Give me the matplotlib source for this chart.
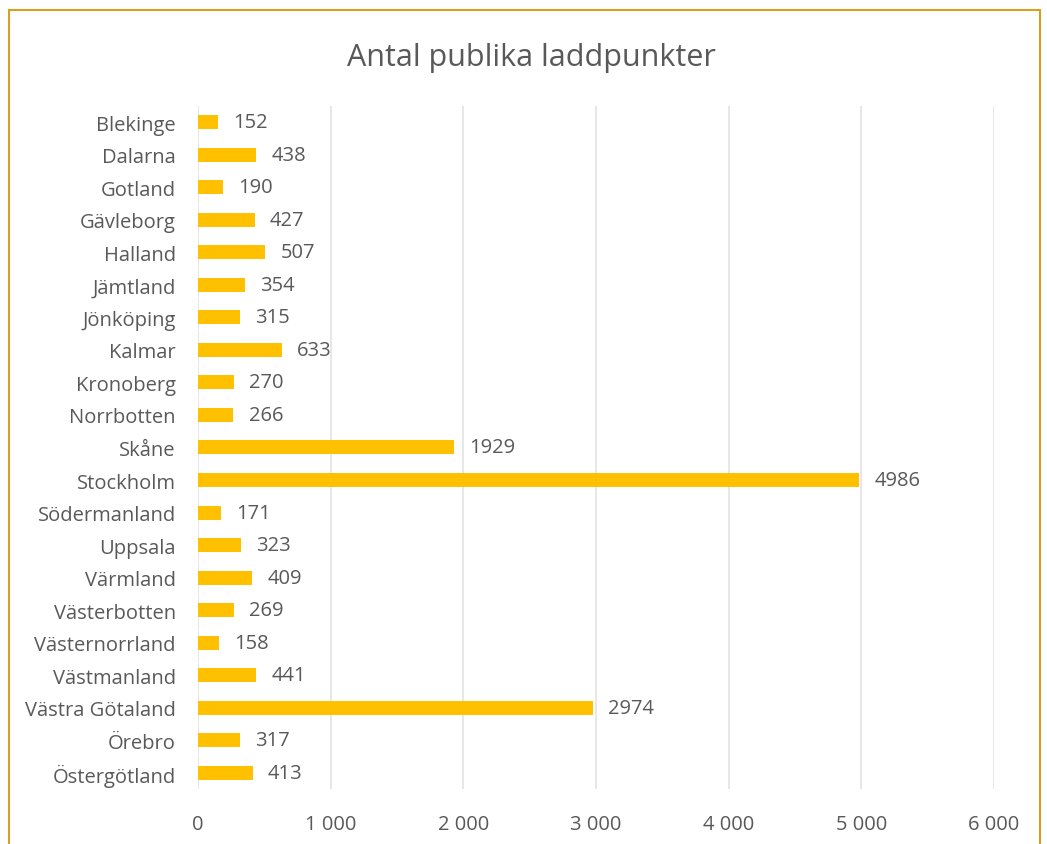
import matplotlib.pyplot as plt
from matplotlib.patches import Rectangle
from matplotlib.ticker import FuncFormatter

plt.rcParams['font.family'] = ['Open Sans', 'DejaVu Sans']

lan = ['Blekinge', 'Dalarna', 'Gotland', 'Gävleborg', 'Halland', 'Jämtland',
       'Jönköping', 'Kalmar', 'Kronoberg', 'Norrbotten', 'Skåne', 'Stockholm',
       'Södermanland', 'Uppsala', 'Värmland', 'Västerbotten', 'Västernorrland',
       'Västmanland', 'Västra Götaland', 'Örebro', 'Östergötland']
laddpunkter = [152, 438, 190, 427, 507, 354, 315, 633, 270, 266, 1929, 4986,
               171, 323, 409, 269, 158, 441, 2974, 317, 413]
xticks = [0, 1000, 2000, 3000, 4000, 5000, 6000]

gray = '#595959'
gold = '#FFC000'

fig = plt.figure(figsize=(10.47, 8.45), dpi=100)
ax = fig.add_axes([0.1891, 0.0651, 0.7603, 0.8083])

ax.barh(lan, laddpunkter, height=0.43, color=gold, zorder=3)
ax.set_ylim(len(lan) - 0.5, -0.5)
ax.set_xlim(0, 6000)
ax.set_xticks(xticks)
ax.xaxis.set_major_formatter(FuncFormatter(lambda v, p: f'{int(v):,}'.replace(',', ' ')))
ax.grid(axis='x', color='#e0e0e0', linewidth=1.1, zorder=0)
for s in ax.spines.values():
    s.set_visible(False)
ax.tick_params(axis='both', length=0, labelsize=14.5, labelcolor=gray)
ax.tick_params(axis='y', pad=16)
ax.tick_params(axis='x', pad=18)

for i, v in enumerate(laddpunkter):
    ax.text(v + 115, i, str(v), va='center', ha='left', fontsize=14.5, color=gray)

fig.text(0.508, 0.931, 'Antal publika laddpunkter', ha='center', va='center',
         fontsize=22, color=gray)

fig.patches.append(Rectangle((0.009, -0.05), 0.984, 1.037, transform=fig.transFigure,
                             fill=False, edgecolor='#D4A21F', linewidth=1.5))

fig.savefig('out.png', dpi=100)
